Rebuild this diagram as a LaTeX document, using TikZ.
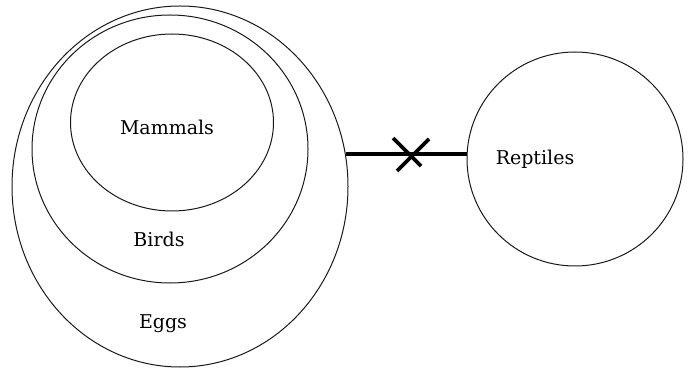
\documentclass[tikz,border=0pt]{standalone}
\usepackage{fontspec}
\setmainfont{DejaVu Serif}
\usetikzlibrary{shapes.geometric}
\begin{document}
\begin{tikzpicture}[x=1pt,y=-1pt,
  setring/.style={draw=black!90,line width=1pt,ellipse,inner sep=0pt},
  lbl/.style={font=\fontsize{19}{22}\selectfont,text=black},
  link/.style={line width=3.6pt,black},
  cross/.style={line width=3.8pt,black}]
\useasboundingbox (0,0) rectangle (693,371);
\node[setring,minimum width=336pt,minimum height=361pt] (eggs) at (180,186.5) {};
\node[setring,minimum width=276pt,minimum height=268pt] (birds) at (170,149) {};
\node[setring,minimum width=203pt,minimum height=177pt] (mammals) at (172,122.5) {};
\node[setring,minimum width=216pt,minimum height=214pt] (reptiles) at (575,159) {};
\node[lbl] (tm) at (167,127) {Mammals};
\node[lbl] (tb) at (159,239) {Birds};
\node[lbl] (te) at (163,324) {Eggs};
\node[lbl] (tr) at (535,159) {Reptiles};
\draw[link] (eggs.11.5) -- (eggs.11.5 -| reptiles.west);
\coordinate (xm) at (410,154);
\draw[cross] ([shift={(-17,-16)}]xm) -- ([shift={(11,12)}]xm);
\draw[cross] ([shift={(19,-15)}]xm) -- ([shift={(-13,17)}]xm);
\end{tikzpicture}
\end{document}
